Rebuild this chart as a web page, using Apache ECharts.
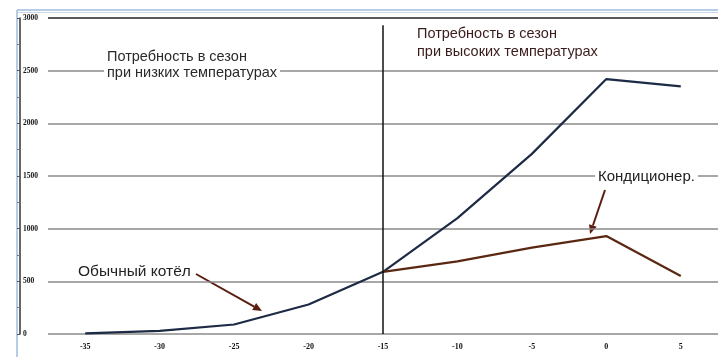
<!DOCTYPE html>
<html>
<head>
<meta charset="utf-8">
<script src="https://cdn.jsdelivr.net/npm/echarts@6/dist/echarts.min.js"></script>
<style>
  html, body { margin: 0; padding: 0; background: #fff; }
  #chart { width: 718px; height: 357px; }
</style>
</head>
<body>
<div id="chart"></div>
<script>
// температура наружного воздуха
var temps = ['-35', '-30', '-25', '-20', '-15', '-10', '-5', '0', '5'];
// обычный котёл
var boiler = [5, 30, 90, 280, 590, 1100, 1710, 2420, 2350];
// кондиционер (только при высоких температурах)
var aircon = [null, null, null, null, 590, 690, 820, 930, 550];
var yTicks = [0, 500, 1000, 1500, 2000, 2500, 3000];

var chart = echarts.init(document.getElementById('chart'));

// стрелка для подписей
function arrow(x1, y1, x2, y2, color) {
  var a = Math.atan2(y2 - y1, x2 - x1), L = 9, W = 4;
  var bx = x2 - L * Math.cos(a), by = y2 - L * Math.sin(a);
  return {
    type: 'group',
    children: [
      { type: 'line', shape: { x1: x1, y1: y1, x2: bx, y2: by }, style: { stroke: color, lineWidth: 2 } },
      { type: 'polygon', shape: { points: [[x2, y2],
          [bx + W * Math.sin(a), by - W * Math.cos(a)],
          [bx - W * Math.sin(a), by + W * Math.cos(a)]] }, style: { fill: color } }
    ]
  };
}

var txtFont = '"Liberation Sans", Arial, sans-serif';

chart.setOption({
  animation: false,
  grid: { left: 48, right: 0, top: 18, bottom: 23 },
  xAxis: {
    type: 'category',
    data: temps,
    boundaryGap: true,
    axisLine: { show: false },
    axisTick: { show: false },
    axisLabel: { color: '#111', fontSize: 8, fontWeight: 'bold', fontFamily: '"Liberation Serif", serif', margin: 9 }
  },
  yAxis: {
    type: 'value',
    min: yTicks[0],
    max: yTicks[yTicks.length - 1],
    interval: 500,
    offset: 28,
    axisLine: { show: true, lineStyle: { color: '#333', width: 1.5 } },
    axisTick: { show: true, length: 3, inside: false, lineStyle: { color: '#555' } },
    minorTick: { show: true, splitNumber: 2, length: 3, lineStyle: { color: '#777' } },
    axisLabel: { inside: true, margin: 3, fontSize: 7.5, fontWeight: 'bold', color: '#111',
      fontFamily: '"Liberation Serif", serif', formatter: function (v) { return String(v); } },
    splitLine: { show: true, lineStyle: { color: ['#8a8a8a', '#8a8a8a', '#8a8a8a', '#8a8a8a', '#8a8a8a', '#8a8a8a', '#222'], width: 1.6 } }
  },
  series: [
    {
      name: 'Обычный котёл',
      type: 'line',
      data: boiler,
      symbol: 'none',
      lineStyle: { color: '#1d2a45', width: 2.2 },
      z: 3,
      markLine: {
        silent: true,
        symbol: 'none',
        label: { show: false },
        lineStyle: { color: '#111', width: 1.5, type: 'solid' },
        data: [[{ coord: ['-15', 2930] }, { coord: ['-15', 0] }]]
      }
    },
    {
      name: 'Кондиционер',
      type: 'line',
      data: aircon,
      symbol: 'none',
      lineStyle: { color: '#5a2812', width: 2.2 },
      z: 4
    }
  ],
  graphic: [
    // рамка
    { type: 'line', shape: { x1: 17, y1: 10, x2: 718, y2: 10 }, style: { stroke: '#9fbbdc', lineWidth: 1.5 } },
    { type: 'line', shape: { x1: 17, y1: 12.5, x2: 718, y2: 12.5 }, style: { stroke: '#c8d6e8', lineWidth: 1 } },
    { type: 'line', shape: { x1: 17, y1: 10, x2: 17, y2: 357 }, style: { stroke: '#9fbbdc', lineWidth: 1.5 } },
    // подписи
    { type: 'text', left: 104, top: 49, z: 10,
      style: { text: 'Потребность в сезон\nпри низких температурах', font: '14.5px ' + txtFont, fill: '#2a2a2a',
        lineHeight: 16, backgroundColor: '#fff', padding: [0, 3] } },
    { type: 'text', left: 415, top: 25, z: 10,
      style: { text: 'Потребность в сезон\nпри высоких температурах', font: '14.5px ' + txtFont, fill: '#3a1c1c',
        lineHeight: 18, backgroundColor: '#fff', padding: [0, 2] } },
    { type: 'text', left: 595, top: 168, z: 10,
      style: { text: 'Кондиционер.', font: '15px ' + txtFont, fill: '#222', backgroundColor: '#fff', padding: [1, 3] } },
    { type: 'text', left: 75, top: 263, z: 10,
      style: { text: 'Обычный котёл', font: '15.5px ' + txtFont, fill: '#222', backgroundColor: '#fff', padding: [1, 3] } },
    arrow(196, 274, 262, 311, '#5a1e10'),
    arrow(605, 190, 590, 234, '#5a1e10')
  ]
});
</script>
</body>
</html>
